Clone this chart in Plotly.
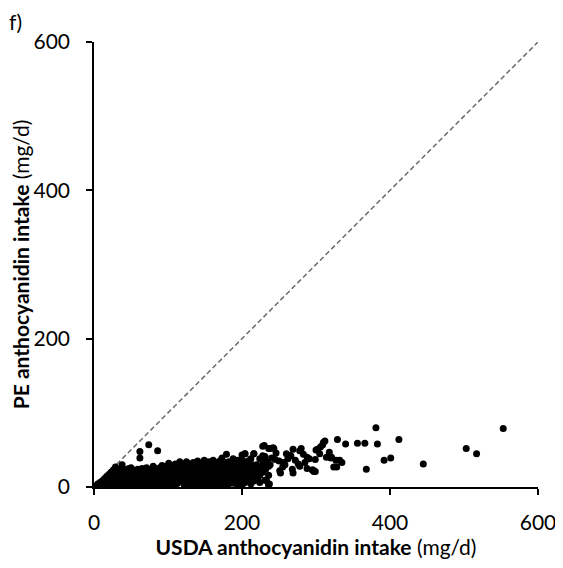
import plotly.graph_objs as go

# dense cloud near the origin: one USDA value per column, PE values stacked in it
dense_usda = [2, 5, 8, 11, 14, 17, 20, 23, 26, 29, 32, 35, 38, 41, 44, 47, 50, 53, 56, 59,
              62, 65, 68, 71, 74, 77, 80, 83, 86, 89, 92, 95, 98, 101, 104, 107, 110, 113,
              116, 119, 122, 125, 128, 131, 134, 137, 140, 143, 146, 149, 152, 155, 158,
              161, 164, 167, 170, 173, 176, 179, 182, 185, 188, 191, 194, 197, 200, 204,
              208, 212, 216, 220, 224, 228, 232, 236]
dense_pe = [[1], [2, 4], [1, 6], [3, 8], [1, 6, 11], [3, 9, 14], [1, 6, 12, 17],
            [4, 10, 15, 20], [2, 8, 14, 19, 23], [5, 11, 17, 27], [1, 8, 14, 20],
            [4, 11, 17, 24], [2, 8, 15, 21, 30], [5, 12, 18, 24], [1, 9, 16, 22],
            [4, 11, 18, 25], [2, 8, 14, 20, 26], [5, 12, 18, 23], [1, 9, 15, 21],
            [4, 11, 17, 24], [2, 8, 14, 20, 39, 48], [6, 12, 18, 25], [1, 9, 15, 22],
            [4, 11, 17, 26], [2, 8, 14, 21, 57], [5, 12, 18, 24], [1, 9, 16, 22, 28],
            [4, 11, 19, 25], [2, 7, 14, 21, 49], [5, 12, 18, 26], [1, 9, 15, 23, 29],
            [4, 11, 18, 25], [2, 7, 14, 21, 28], [5, 12, 19, 25, 32], [1, 9, 16, 23, 29],
            [6, 13, 20, 27], [2, 9, 16, 24, 31], [5, 12, 19, 26], [8, 15, 22, 29, 34],
            [11, 18, 25, 31], [3, 9, 16, 23, 30], [6, 13, 20, 27, 34], [2, 10, 17, 24, 31],
            [7, 14, 21, 28], [3, 11, 18, 25, 33], [5, 12, 19, 26, 31], [2, 9, 16, 23, 30, 35],
            [6, 13, 20, 28], [3, 10, 17, 24, 32], [6, 14, 21, 29, 36], [2, 9, 16, 23, 31],
            [5, 12, 19, 27, 34], [3, 10, 17, 24, 32], [7, 14, 21, 29, 36], [4, 11, 18, 26, 33],
            [8, 15, 22, 30], [3, 12, 19, 27, 35], [6, 14, 22, 30, 39], [2, 10, 17, 25, 33],
            [7, 15, 22, 30, 44], [4, 12, 20, 28, 34], [9, 17, 25, 32], [5, 13, 21, 29, 38],
            [10, 18, 26, 34], [3, 12, 20, 28, 36], [8, 16, 24, 33], [2, 11, 19, 27, 36, 43],
            [6, 14, 22, 30, 45], [10, 18, 27, 35], [4, 13, 22, 31], [8, 17, 24, 45],
            [12, 21, 30], [6, 16, 26, 38], [20, 30, 42, 55], [9, 24, 35], [3, 16, 28, 52]]

# sparser points further out
tail_usda = [230, 242, 238, 243, 269, 278, 283, 300, 306, 310, 312, 266, 272, 291, 299,
             314, 321, 332, 335, 324, 328, 278, 269, 252, 255, 297, 231, 236, 245, 231,
             234, 238, 204, 216, 265, 288, 240, 207, 216, 227, 251, 268, 276, 288, 296,
             202, 233, 237, 329, 340, 356, 366, 383, 381, 412, 392, 401, 368, 309, 302,
             320, 327, 295, 299, 445, 503, 517, 553, 280, 260, 250, 258, 262, 285, 305,
             318, 246, 256, 212, 222]
tail_pe = [56, 53, 52, 52, 51, 49, 44, 50, 54, 60, 62, 42, 36, 38, 37,
           40, 40, 36, 33, 27, 27, 28, 19, 19, 27, 21, 9, 3, 37, 41,
           33, 30, 45, 45, 42, 40, 39, 27, 23, 22, 22, 24, 31, 25, 23,
           6, 9, 4, 64, 58, 59, 59, 58, 80, 64, 36, 39, 24, 57, 51,
           39, 36, 23, 21, 31, 52, 45, 79, 52, 45, 35, 30, 38, 33, 45,
           47, 46, 33, 38, 14]

usda = []
pe = []
for x, ys in zip(dense_usda, dense_pe):
    for y in ys:
        usda.append(x)
        pe.append(y)
usda += tail_usda
pe += tail_pe

font = "Lato, 'Open Sans', sans-serif"

trace1 = go.Scatter(
    x=[0, 600],
    y=[0, 600],
    mode='lines',
    line=dict(color='#6a6a6a', width=1.5, dash='5px,3px'),
    hoverinfo='skip',
)

trace2 = go.Scatter(
    x=usda,
    y=pe,
    mode='markers',
    marker=dict(color='black', size=7, line=dict(width=0)),
    name='Intake',
)

axis_style = dict(
    range=[0, 600],
    tickvals=[0, 200, 400, 600],
    showgrid=False,
    zeroline=False,
    showline=True,
    linecolor='black',
    linewidth=1.5,
    ticks='outside',
    ticklen=6,
    tickwidth=1.5,
    tickcolor='black',
    tickfont=dict(family=font, size=21, color='black'),
    layer='above traces',
    automargin=False,
    fixedrange=True,
)

# the page body adds an 8px margin, so the figure is 8px smaller than the window
layout = go.Layout(
    width=555,
    height=560,
    margin=dict(l=86, r=25, t=34, b=81),
    plot_bgcolor='white',
    paper_bgcolor='white',
    showlegend=False,
    xaxis=dict(
        axis_style,
        ticklabelstandoff=10,
        title=dict(text='<b>USDA anthocyanidin intake</b> (mg/d)',
                   font=dict(family=font, size=21, color='black'), standoff=7),
    ),
    yaxis=dict(
        axis_style,
        ticklabelstandoff=12,
        title=dict(text='<b>PE anthocyanidin intake</b> (mg/d)',
                   font=dict(family=font, size=21, color='black'), standoff=9),
    ),
    annotations=[dict(
        text='f)', xref='paper', yref='paper', x=-0.1937, y=1.0764,
        xanchor='left', yanchor='top', showarrow=False, borderpad=0,
        font=dict(family=font, size=21, color='black'),
    )],
)

fig = go.Figure(data=[trace1, trace2], layout=layout)
fig.write_html("out.html")
